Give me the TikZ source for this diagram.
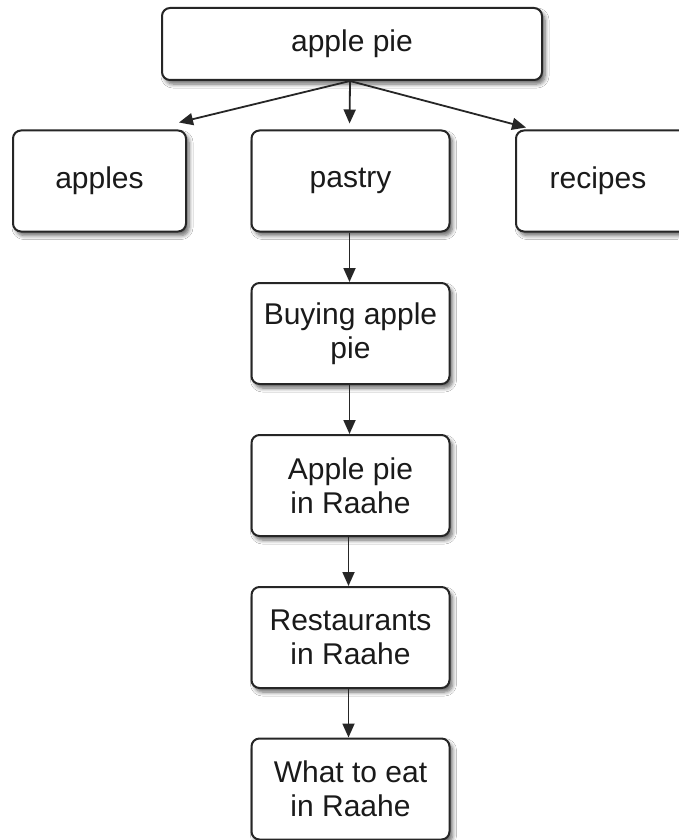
\documentclass[tikz,border=0pt]{standalone}
\usepackage{fontspec}
\setmainfont{Liberation Sans}
\usetikzlibrary{arrows.meta,shadows.blur}
\definecolor{edge}{HTML}{262626}
\definecolor{txt}{HTML}{1A1A1A}
\tikzset{
  box/.style={draw=edge, line width=2pt, rounded corners=8pt, fill=white,
    minimum width=198pt, minimum height=101pt, inner sep=0pt, align=center,
    text=txt, font=\fontsize{30}{34}\selectfont,
    blur shadow={shadow xshift=3pt, shadow yshift=-4pt, shadow blur steps=6, shadow blur radius=4pt, shadow opacity=60}},
  link/.style={draw=edge, line width=1.8pt, -{Triangle[length=14pt,width=12pt]}}
}
\begin{document}
\begin{tikzpicture}[x=1pt,y=-1pt]
\useasboundingbox (0,0) rectangle (678,840);
\fill[white] (0,0) rectangle (678,840);
\node[box, minimum width=380pt, minimum height=72pt] (top) at (352,44) {apple pie};
\node[box, minimum width=173pt] (apples) at (99.5,181) {\raisebox{-2pt}{apples}};
\node[box] (pastry) at (350.5,181) {\raisebox{-2pt}{pastry}};
\node[box] (recipes) at (615,181) {\hspace*{-34pt}\raisebox{-2pt}{recipes}};
\node[box] (buy) at (350.5,333.5) {Buying apple\\pie};
\node[box] (raahe) at (350.5,485.5) {Apple pie\\in Raahe};
\node[box] (rest) at (350.5,637.5) {Restaurants\\in Raahe};
\node[box] (eat) at (350.5,789) {What to eat\\in Raahe};
\coordinate (topout) at ([xshift=-2pt]top.south);
\draw[link] (topout) -- ([xshift=-8pt,yshift=7pt]apples.north east);
\draw[link, shorten >=6pt] (topout) -- ([xshift=-1pt]pastry.north);
\draw[link] (topout) -- ([xshift=11pt,yshift=2pt]recipes.north west);
\draw[link] ([xshift=-1pt]pastry.south) -- ([xshift=-1pt]buy.north);
\draw[link] ([xshift=-1pt]buy.south) -- ([xshift=-1pt]raahe.north);
\draw[link] ([xshift=-2pt]raahe.south) -- ([xshift=-2pt]rest.north);
\draw[link] ([xshift=-2pt]rest.south) -- ([xshift=-2pt]eat.north);
\end{tikzpicture}
\end{document}
